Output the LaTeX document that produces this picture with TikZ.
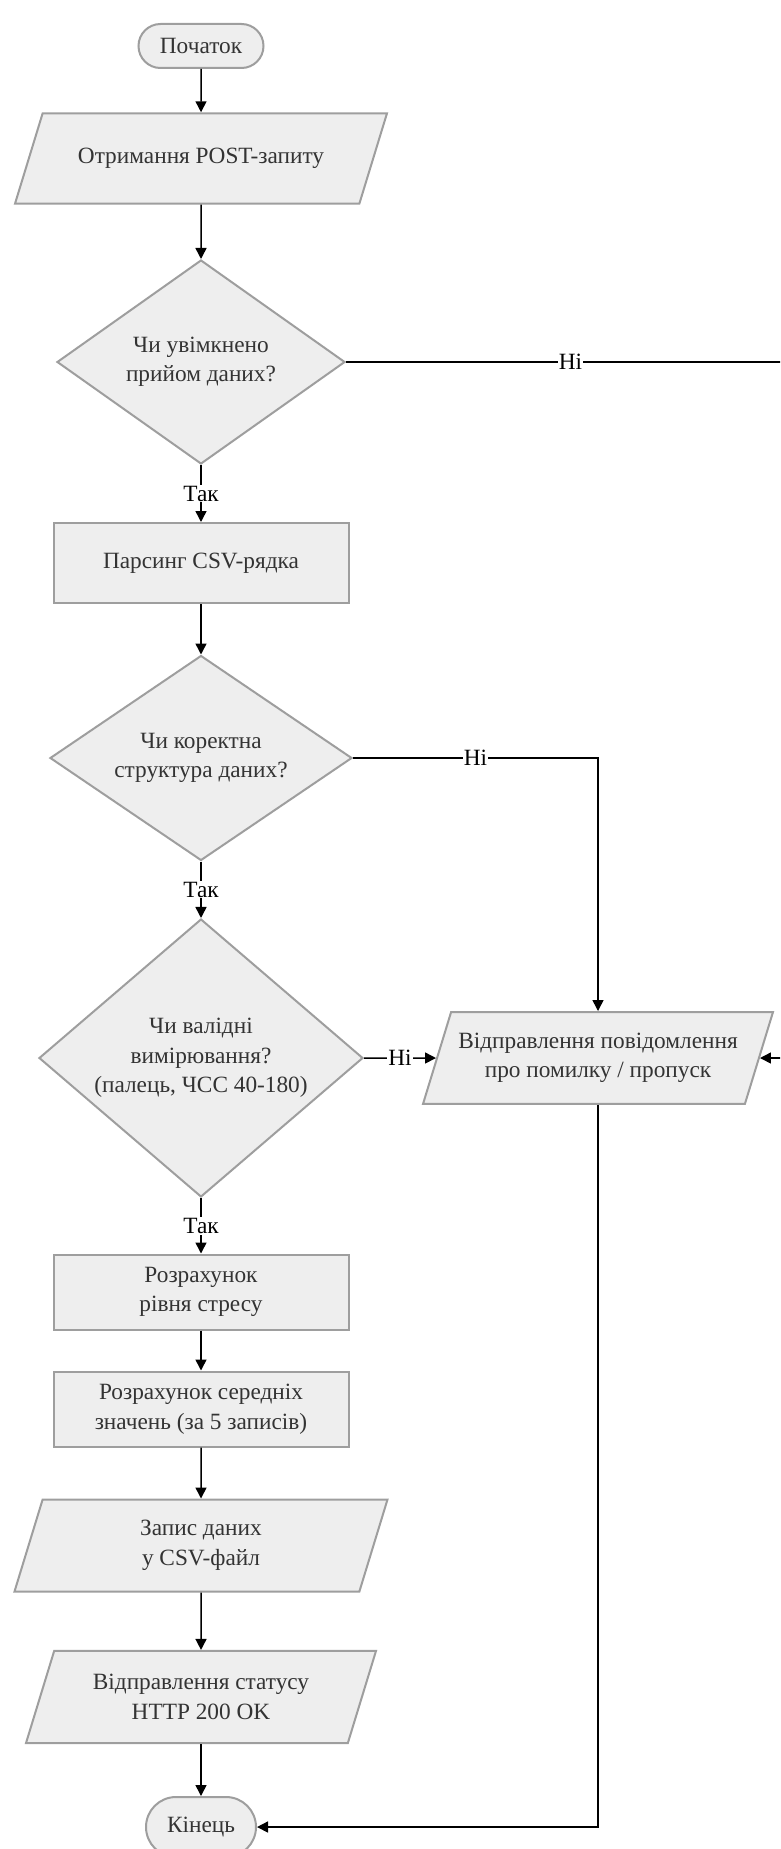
\documentclass[tikz,border=0pt]{standalone}
\usepackage{fontspec}
\setmainfont{Liberation Serif}
\usetikzlibrary{shapes.geometric,arrows.meta}
\definecolor{boxfill}{HTML}{EEEEEE}
\definecolor{boxline}{HTML}{9E9E9E}
\definecolor{boxtext}{HTML}{333333}

\begin{document}
\begin{tikzpicture}[x=1pt,y=-1pt,
  font=\fontsize{23.3}{29.5}\selectfont,
  base/.style={draw=boxline,line width=2pt,fill=boxfill,text=boxtext,
    align=center,inner sep=0pt},
  term/.style={base,rectangle,rounded corners=#1},
  proc/.style={base,rectangle,minimum width=295pt,minimum height=75pt},
  io/.style={base,trapezium,trapezium left angle=73,trapezium right angle=107,
    trapezium stretches body,inner ysep=#1},
  cond/.style={base,diamond},
  arr/.style={line width=1.5pt,-{Triangle[length=11pt,width=11pt]}},
  lbl/.style={fill=white,inner sep=1pt,text=black}]
 \useasboundingbox (0,0) rectangle (780,1849);
 \clip (0,0) rectangle (780,1849);

 \node[term=22pt,minimum width=125pt,minimum height=44pt] (start) at (201,46) {Початок};
 \node[io=35pt,minimum width=372pt] (recv) at (201,158.5) {Отримання POST-запиту};
 \node[cond,minimum width=288pt,minimum height=204pt,aspect=1.41] (dec1) at (201,362)
  {Чи увімкнено\\прийом даних?};
 \node[proc,minimum height=80pt] (parse) at (201,563) {Парсинг CSV-рядка};
 \node[cond,minimum width=302pt,minimum height=205pt,aspect=1.47] (dec2) at (201,758)
  {Чи коректна\\структура даних?};
 \node[cond,minimum width=324pt,minimum height=278pt,aspect=1.165] (dec3) at (201,1058)
  {Чи валідні\\вимірювання?\\(палець, ЧСС 40-180)};
 \node[io=21pt,minimum width=350pt] (err) at (598,1058) {Відправлення повідомлення\\про помилку / пропуск};
 \node[proc] (calc1) at (201,1292) {Розрахунок\\рівня стресу};
 \node[proc] (calc2) at (201,1409) {Розрахунок середніх\\значень (за 5 записів)};
 \node[io=21pt,minimum width=373pt] (save) at (201,1545.5) {Запис даних\\у CSV-файл};
 \node[io=23.5pt,minimum width=350pt] (status) at (201,1697) {Відправлення статусу\\HTTP 200 OK};
 \node[term=30pt,minimum width=110pt,minimum height=60pt] (stop) at (201,1827) {Кінець};
 \coordinate (offR) at (795,362);

 \foreach \a/\b in {start/recv,recv/dec1,parse/dec2,calc1/calc2,
   calc2/save,save/status,status/stop}
  \draw[arr] (\a) -- (\b);
 \draw[arr] (dec1) -- node[lbl] {Так} (parse);
 \draw[arr] (dec2) -- node[lbl] {Так} (dec3);
 \draw[arr] (dec3) -- node[lbl] {Так} (calc1);
 \draw[arr] (dec1) -- node[lbl] {Ні} (offR) |- (err);
 \draw[arr] (dec2) -| node[lbl,pos=0.25] {Ні} (err);
 \draw[arr] (dec3) -- node[lbl] {Ні} (err);
 \draw[arr] (err) |- (stop);
\end{tikzpicture}
\end{document}
